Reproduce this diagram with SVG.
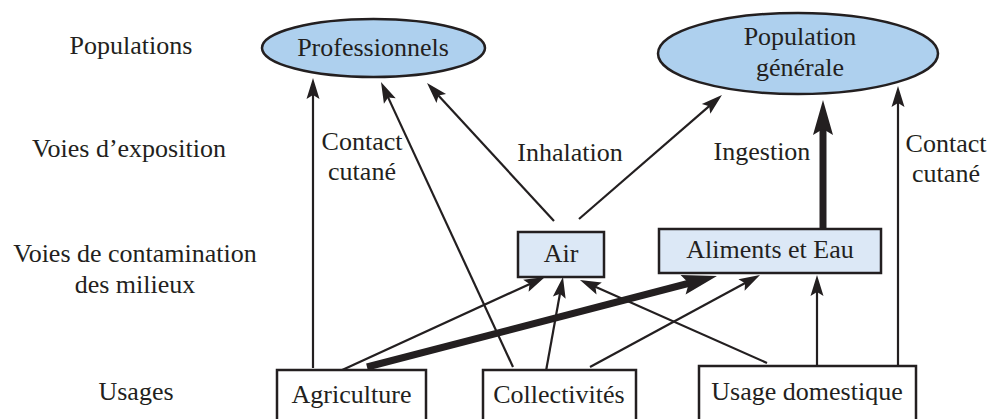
<svg xmlns="http://www.w3.org/2000/svg" width="989" height="419" viewBox="0 0 989 419" font-family="Liberation Serif, Times New Roman, DejaVu Serif, serif">
<style>
text{font-size:26px;fill:#231f20;text-anchor:middle}
.ell{fill:#aed0ee;stroke:#231f20;stroke-width:2.5}
.box{fill:#dce8f6;stroke:#231f20;stroke-width:2.5}
.wbox{fill:#fff;stroke:#231f20;stroke-width:2.5}
.c{stroke:#231f20;stroke-width:2.2;fill:none}
.ct{stroke:#231f20;stroke-width:7;fill:none}
</style>
<defs>
<marker id="a" markerUnits="userSpaceOnUse" orient="auto" refX="0" refY="0" markerWidth="40" markerHeight="40" overflow="visible">
<path d="M10,0 L-11,-6.5 L-7,0 L-11,6.5 Z" fill="#231f20"/>
</marker>
<marker id="at" markerUnits="userSpaceOnUse" orient="auto" refX="0" refY="0" markerWidth="60" markerHeight="60" overflow="visible">
<path d="M20,0 L-15,-10 L-9,0 L-15,10 Z" fill="#231f20"/>
</marker>
</defs>
<g id="labels">
<text x="131" y="54">Populations</text>
<text x="129" y="157">Voies d’exposition</text>
<text x="135" y="262">Voies de contamination</text>
<text x="135" y="293">des milieux</text>
<text x="136" y="400">Usages</text>
</g>
<g id="connectors">
<path class="c" d="M313,368 L313,88" marker-end="url(#a)"/>
<path class="c" d="M513,367 L385.2,91.1" marker-end="url(#a)"/>
<path class="c" d="M554,221 L433.8,90.4" marker-end="url(#a)"/>
<path class="c" d="M579,219 L714.4,101.6" marker-end="url(#a)"/>
<path class="ct" d="M823,229 L823,120" marker-end="url(#at)"/>
<path class="c" d="M898,366 L898,96" marker-end="url(#a)"/>
<path class="c" d="M340,371 L535.9,281.2" marker-end="url(#a)"/>
<path class="c" d="M546,371 L561.2,286.8" marker-end="url(#a)"/>
<path class="c" d="M767,363 L589.1,284.1" marker-end="url(#a)"/>
<path class="ct" d="M367,367 L697.6,281" marker-end="url(#at)"/>
<path class="c" d="M590,367 L751.2,279.8" marker-end="url(#a)"/>
<path class="c" d="M817,366 L817,285" marker-end="url(#a)"/>
<text x="362" y="150">Contact</text>
<text x="362" y="180">cutané</text>
<text x="570" y="161">Inhalation</text>
<text x="762" y="160">Ingestion</text>
<text x="946" y="152">Contact</text>
<text x="946" y="182">cutané</text>
</g>
<g id="professionnels">
<ellipse class="ell" cx="373.5" cy="48" rx="111.5" ry="29"/>
<text x="373" y="56">Professionnels</text>
</g>
<g id="population-generale">
<ellipse class="ell" cx="798" cy="53.5" rx="140" ry="40.5"/>
<text x="800" y="45">Population</text>
<text x="800" y="76">générale</text>
</g>
<g id="air">
<rect class="box" x="518" y="232" width="86" height="45"/>
<text x="561" y="262">Air</text>
</g>
<g id="aliments-eau">
<rect class="box" x="659" y="229" width="222" height="44"/>
<text x="770" y="258">Aliments et Eau</text>
</g>
<g id="agriculture">
<rect class="wbox" x="277" y="370" width="149" height="60"/>
<text x="351.5" y="403">Agriculture</text>
</g>
<g id="collectivites">
<rect class="wbox" x="483" y="370" width="153" height="60"/>
<text x="559" y="403">Collectivités</text>
</g>
<g id="usage-domestique">
<rect class="wbox" x="699" y="366" width="217" height="64"/>
<text x="807" y="400">Usage domestique</text>
</g>
</svg>
